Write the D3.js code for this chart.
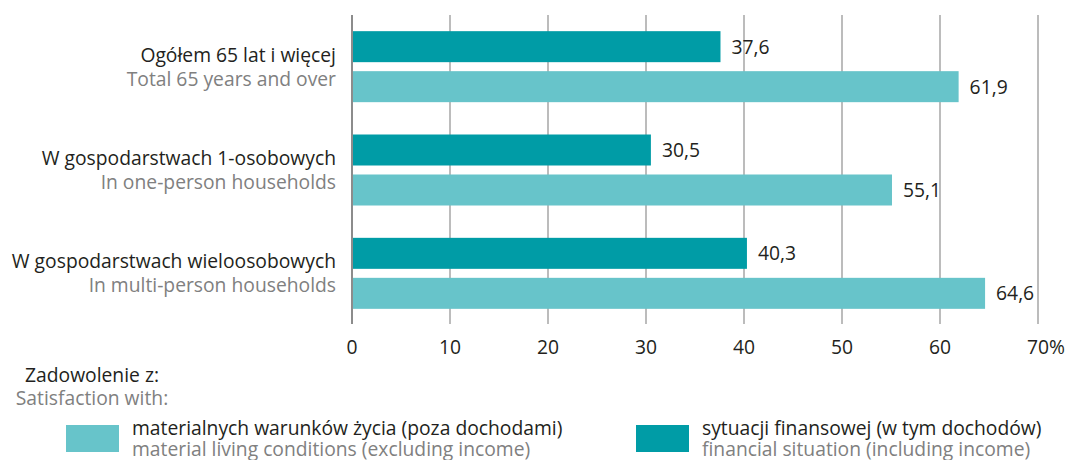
<!DOCTYPE html>
<html><head><meta charset="utf-8">
<script src="https://cdn.jsdelivr.net/npm/d3@7"></script>
<style>
html,body{margin:0;padding:0;background:#fff;}
svg{display:block;font-family:"Open Sans","Noto Sans",sans-serif;}
</style></head>
<body><svg id="c" width="1068" height="460"></svg>
<script>
const categoriesPl = ["Ogółem 65 lat i więcej","W gospodarstwach 1-osobowych","W gospodarstwach wieloosobowych"];
const categoriesEn = ["Total 65 years and over","In one-person households","In multi-person households"];
const seriesKeys = ["financial","material"];
const financialValues = [37.6, 30.5, 40.3];
const materialValues = [61.9, 55.1, 64.6];
const tickValues = [0,10,20,30,40,50,60,70];
const legendTitlePl = "Zadowolenie z:";
const legendTitleEn = "Satisfaction with:";
const legendPl = {material:"materialnych warunków życia (poza dochodami)", financial:"sytuacji finansowej (w tym dochodów)"};
const legendEn = {material:"material living conditions (excluding income)", financial:"financial situation (including income)"};

const colors = {financial:"#009ca6", material:"#67c4ca"};
const fs = 19.3;
const svg = d3.select("#c");
const x = d3.scaleLinear().domain([0,70]).range([352,1038]);
const y = d3.scaleBand().domain(categoriesPl).range([15,325]);
const ySub = d3.scaleBand().domain(seriesKeys).range([-35.5,35.5]).paddingInner(0.225);

const data = categoriesPl.map((c,i)=>({cat:c, en:categoriesEn[i], financial:financialValues[i], material:materialValues[i]}));
const center = c => y(c) + y.bandwidth()/2;

// gridlines
svg.append("g").selectAll("line").data(tickValues.slice(1)).join("line")
  .attr("x1",d=>x(d)).attr("x2",d=>x(d)).attr("y1",15).attr("y2",324)
  .attr("stroke","#a6a6a6").attr("stroke-width",1.5);

// bars
const g = svg.append("g");
data.forEach(d=>{
  seriesKeys.forEach(k=>{
    g.append("rect").attr("x",x(0)).attr("y",center(d.cat)+ySub(k))
      .attr("width",x(d[k])-x(0)).attr("height",ySub.bandwidth()).attr("fill",colors[k]);
    g.append("text").attr("x",x(d[k])+11).attr("y",center(d.cat)+ySub(k)+ySub.bandwidth()/2+7)
      .attr("font-size",fs).attr("fill","#231f20").text(d3.format(".1f")(d[k]).replace(".",","));
  });
});

// axis line at 0
svg.append("line").attr("x1",x(0)).attr("x2",x(0)).attr("y1",15).attr("y2",324)
  .attr("stroke","#8c8c8c").attr("stroke-width",2);

// tick labels
const tl = svg.append("g").selectAll("text").data(tickValues).join("text")
  .attr("x",d=>x(d)).attr("y",354).attr("font-size",fs).attr("fill","#231f20")
  .attr("text-anchor","middle").text(d=>d===70? d+"%" : d);
tl.filter(d=>d===70).each(function(d){
  const t = d3.select(this);
  const tmp = svg.append("text").attr("font-size",fs).text(String(d));
  const w = tmp.node().getComputedTextLength(); tmp.remove();
  t.attr("text-anchor","start").attr("x",x(d)-w/2);
});

// category labels
const cl = svg.append("g").selectAll("g").data(data).join("g");
cl.append("text").attr("x",336).attr("y",d=>center(d.cat)-5).attr("text-anchor","end")
  .attr("font-size",fs).attr("fill","#231f20").text(d=>d.cat);
cl.append("text").attr("x",336).attr("y",d=>center(d.cat)+19).attr("text-anchor","end")
  .attr("font-size",fs).attr("fill","#808080").text(d=>d.en);

// legend
svg.append("text").attr("x",92).attr("y",382).attr("text-anchor","middle").attr("font-size",fs).attr("fill","#231f20").text(legendTitlePl);
svg.append("text").attr("x",92).attr("y",405).attr("text-anchor","middle").attr("font-size",fs).attr("fill","#808080").text(legendTitleEn);
const legendItems = [{k:"material", x:66},{k:"financial", x:636}];
legendItems.forEach(it=>{
  svg.append("rect").attr("x",it.x).attr("y",425).attr("width",53).attr("height",27).attr("fill",colors[it.k]);
  svg.append("text").attr("x",it.x+66).attr("y",435).attr("font-size",fs).attr("fill","#231f20").text(legendPl[it.k]);
  svg.append("text").attr("x",it.x+66).attr("y",456).attr("font-size",fs).attr("fill","#808080").text(legendEn[it.k]);
});
</script></body></html>
